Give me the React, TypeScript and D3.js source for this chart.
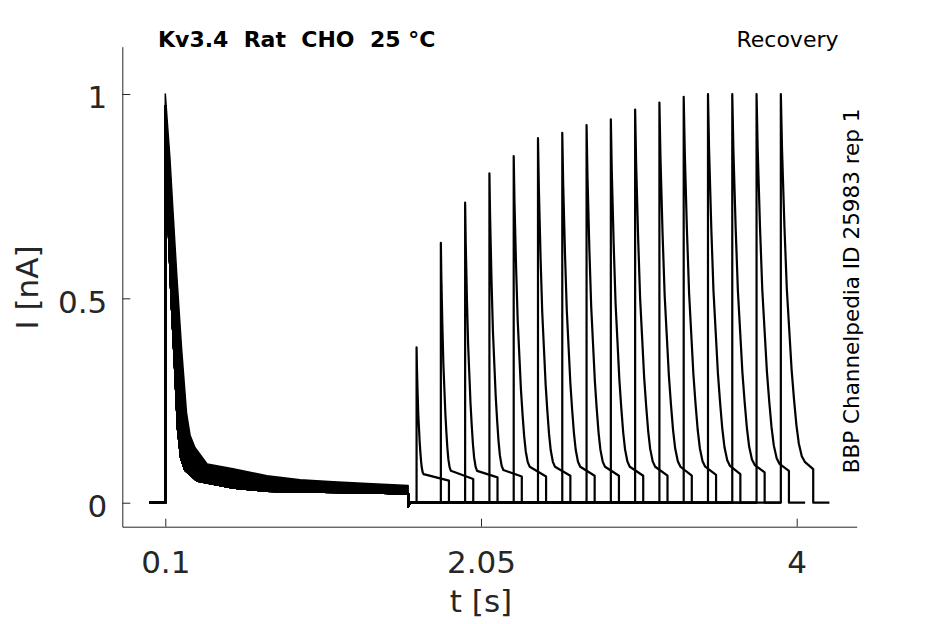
import React, { useEffect, useRef } from "react";
import * as d3 from "d3";

const width = 945;
const height = 624;

// axis limits (data units) and ticks
const xLim: [number, number] = [-0.1656, 4.3706];
const yLim: [number, number] = [-0.0587, 1.1157];
const xTicks = [0.1, 2.05, 4];
const xTickLabels = ["0.1", "2.05", "4"];
const yTicks = [0, 0.5, 1];
const yTickLabels = ["0", "0.5", "1"];

// protocol timing [s]
const sweepStart = 0;
const pulse1On = 0.1;
const pulse1Off = 1.6;
const pulse1Peak = 0.97;
const tailDip = -0.009;
const tailBack = 1.61;
const pulse2Len = 0.2;
const sweepTail = 0.1;

// test pulse of each sweep: onset [s], peak [nA], decay time [s], knee and end level [nA]
const pulse2On = [1.652, 1.802, 1.952, 2.102, 2.252, 2.402, 2.552, 2.702, 2.852, 3.002, 3.152, 3.302, 3.452, 3.602, 3.752, 3.902];
const pulse2Peak = [0.38, 0.636, 0.734, 0.806, 0.848, 0.892, 0.905, 0.924, 0.938, 0.962, 0.979, 0.993, 1.0, 1.0, 1.0, 1.0];
const pulse2Decay = [0.043, 0.062, 0.074, 0.086, 0.099, 0.105, 0.111, 0.114, 0.117, 0.124, 0.13, 0.133, 0.136, 0.139, 0.142, 0.148];
const pulse2Knee = [0.07, 0.078, 0.078, 0.08, 0.088, 0.088, 0.088, 0.088, 0.088, 0.088, 0.088, 0.088, 0.09, 0.092, 0.095, 0.1];
const pulse2End = [0.054, 0.058, 0.062, 0.064, 0.064, 0.066, 0.066, 0.066, 0.066, 0.066, 0.066, 0.068, 0.07, 0.074, 0.078, 0.082];

// fast decay seen on the test pulses: fraction of decay time -> fraction above knee
const decayU = [0, 0.05, 0.15, 0.25, 0.35, 0.45, 0.55, 0.65, 0.75, 0.875, 1];
const decayF = [1, 0.85, 0.64, 0.47, 0.36, 0.25, 0.17, 0.1, 0.05, 0.015, 0];

// conditioning pulse: all sweeps overlap into a noisy band
const bandHiT = [0.1, 0.129, 0.148, 0.172, 0.2, 0.231, 0.253, 0.283, 0.358, 0.518, 0.728, 0.932, 1.136, 1.346, 1.6];
const bandHiI = [1.0, 0.84, 0.71, 0.55, 0.38, 0.22, 0.165, 0.135, 0.095, 0.083, 0.066, 0.056, 0.051, 0.047, 0.042];
const bandLoT = [0.1, 0.117, 0.138, 0.16, 0.178, 0.197, 0.222, 0.296, 0.518, 0.728, 0.932, 1.346, 1.6];
const bandLoI = [0.94, 0.71, 0.5, 0.33, 0.18, 0.11, 0.08, 0.054, 0.037, 0.029, 0.027, 0.025, 0.022];

const font = "'DejaVu Sans', sans-serif";
const axisColor = "#262626";

const App: React.FC = () => {
  const xAxisRef = useRef<SVGGElement | null>(null);
  const yAxisRef = useRef<SVGGElement | null>(null);

  const x = d3.scaleLinear().domain(xLim).range([122.3, 856.7]);
  const y = d3.scaleLinear().domain(yLim).range([526.7, 46.7]);

  useEffect(() => {
    if (!xAxisRef.current || !yAxisRef.current) return;

    const xAxis = d3
      .axisBottom(x)
      .tickValues(xTicks)
      .tickFormat((_d, i) => xTickLabels[i])
      .tickSizeInner(-8)
      .tickSizeOuter(0);
    const gx = d3.select(xAxisRef.current);
    gx.selectAll("*").remove();
    gx.call(xAxis);
    gx.selectAll("path, line").attr("stroke", axisColor);
    gx.selectAll("text")
      .attr("y", 46)
      .attr("dy", null)
      .attr("fill", axisColor)
      .style("font-family", font)
      .style("font-size", "31px");

    const yAxis = d3
      .axisLeft(y)
      .tickValues(yTicks)
      .tickFormat((_d, i) => yTickLabels[i])
      .tickSizeInner(-8)
      .tickSizeOuter(0);
    const gy = d3.select(yAxisRef.current);
    gy.selectAll("*").remove();
    gy.call(yAxis);
    gy.selectAll("path, line").attr("stroke", axisColor);
    gy.selectAll("text")
      .attr("x", -15)
      .attr("dy", "0.45em")
      .attr("fill", axisColor)
      .style("font-family", font)
      .style("font-size", "31px");
  }, []);

  const line = d3
    .line<[number, number]>()
    .x((d) => x(d[0]))
    .y((d) => y(d[1]));

  // band outline: upper edge forward, lower edge back
  const bandPts: [number, number][] = [
    ...bandHiT.map((t, i) => [t, bandHiI[i]] as [number, number]),
    ...bandLoT.map((t, i) => [t, bandLoI[i]] as [number, number]).reverse(),
  ];
  const bandPath = line(bandPts) + "Z";

  const sweeps = pulse2On.map((on, k) => {
    const pts: [number, number][] = [
      [sweepStart, 0],
      [pulse1On, 0],
      [pulse1On, pulse1Peak],
    ];
    bandLoT.slice(1).forEach((t, i) => pts.push([t, bandLoI[i + 1]]));
    pts.push([pulse1Off, tailDip], [tailBack, 0], [on, 0], [on, pulse2Peak[k]]);
    decayU.slice(1).forEach((u, j) => {
      const f = decayF[j + 1];
      pts.push([on + u * pulse2Decay[k], pulse2Knee[k] + (pulse2Peak[k] - pulse2Knee[k]) * f]);
    });
    pts.push(
      [on + pulse2Len, pulse2End[k]],
      [on + pulse2Len, 0],
      [on + pulse2Len + sweepTail, 0]
    );
    return line(pts) as string;
  });

  return (
    <svg
      width={width}
      height={height}
      style={{ position: "absolute", left: 0, top: 0, background: "#fff" }}
    >
      <rect width={width} height={height} fill="#fff" />
      <path d={bandPath} fill="#000" stroke="#000" strokeWidth={1.5} strokeLinejoin="round" />
      {sweeps.map((d, i) => (
        <path key={i} d={d} fill="none" stroke="#000" strokeWidth={2.2} strokeLinejoin="round" />
      ))}

      <g ref={xAxisRef} transform={`translate(0, ${y(yLim[0])})`} />
      <g ref={yAxisRef} transform={`translate(${x(xLim[0])}, 0)`} />

      <text
        x={x(2.05)}
        y={612}
        textAnchor="middle"
        fontFamily={font}
        fontSize={31}
        fill={axisColor}
      >
        t [s]
      </text>
      <text
        transform={`translate(38, 287.5) rotate(-90)`}
        textAnchor="middle"
        fontFamily={font}
        fontSize={31}
        fill={axisColor}
      >
        I [nA]
      </text>

      <text
        x={158}
        y={47.3}
        fontFamily={font}
        fontSize={22}
        fontWeight="bold"
        fill="#000"
        style={{ whiteSpace: "pre" }}
      >
        {"Kv3.4  Rat  CHO  25 °C"}
      </text>
      <text x={838.5} y={47} textAnchor="end" fontFamily={font} fontSize={22} fill="#000">
        Recovery
      </text>
      <text
        transform={`translate(859, 473.3) rotate(-90)`}
        fontFamily={font}
        fontSize={21.5}
        fill="#000"
      >
        BBP Channelpedia ID 25983 rep 1
      </text>
    </svg>
  );
};

export default App;
